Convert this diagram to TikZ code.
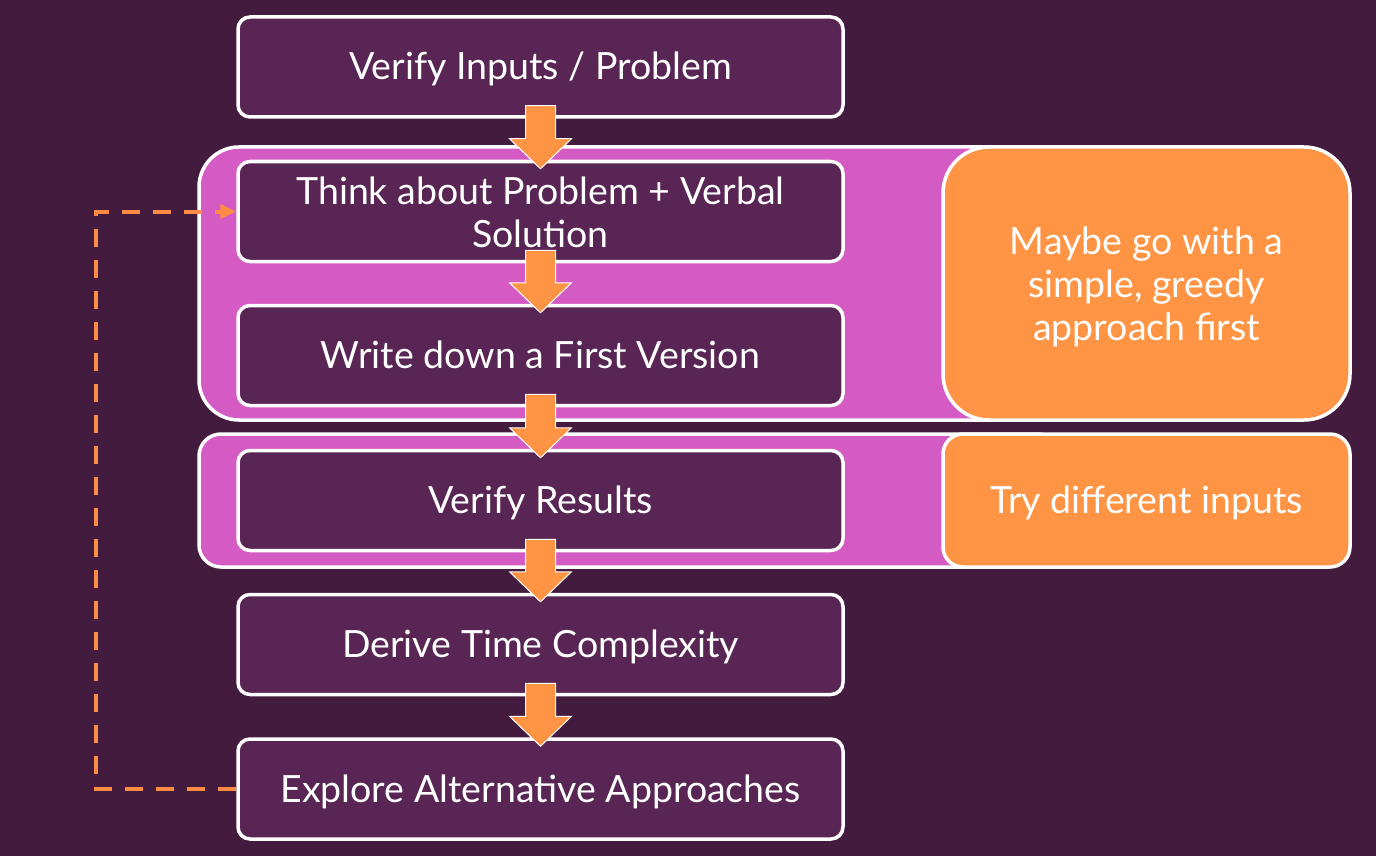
\documentclass[tikz,border=0pt]{standalone}
\usepackage{fontspec}
\setmainfont{Lato}
\usetikzlibrary{calc,arrows.meta}
\definecolor{bgpurple}{RGB}{66,27,62}
\definecolor{boxpurple}{RGB}{88,37,84}
\definecolor{grouppink}{RGB}{213,91,196}
\definecolor{noteorange}{RGB}{255,148,68}
\definecolor{dashorange}{RGB}{255,140,66}
\tikzset{
  stepbox/.style={draw=white, line width=3.5pt, fill=boxpurple, rounded corners=12pt,
    minimum width=605pt, minimum height=100pt, inner sep=0pt, text=white,
    font=\fontsize{37.5}{43}\selectfont, align=center},
  oneline/.style={text height=33pt, text depth=7pt},
  groupbox/.style={draw=white, line width=3.5pt, fill=grouppink, inner sep=0pt},
  notebox/.style={draw=white, line width=3.5pt, fill=noteorange, inner sep=0pt,
    text=white, font=\fontsize{37.5}{43}\selectfont, align=center},
  blockarrow/.style={fill=noteorange, draw=white, line width=1pt, line join=miter},
  loopline/.style={draw=dashorange, line width=4pt, dash pattern=on 18pt off 13pt,
    -{Triangle[length=16pt,width=14pt]}}
}
\newcommand{\blockarr}[2]{%
  \path[blockarrow] let \p1=(#1.south), \p2=(#2.north) in
    (\x1-15pt,\y1+13pt) -- (\x1+15pt,\y1+13pt) -- (\x1+15pt,\y2+21pt)
    -- (\x1+31pt,\y2+21pt) -- (\x1,\y2-9pt) -- (\x1-31pt,\y2+21pt)
    -- (\x1-15pt,\y2+21pt) -- cycle;}
\begin{document}
\begin{tikzpicture}[x=1pt,y=-1pt]
\fill[bgpurple] (0,0) rectangle (1376,856);
\useasboundingbox (0,0) rectangle (1376,856);
% groups
\node[groupbox, rounded corners=40pt, minimum width=861pt, minimum height=273pt] (g1) at (629.5,283.5) {};
\node[notebox, rounded corners=46pt, minimum width=407pt, minimum height=273pt] (n1) at (1146.5,283.5) {\rule{0pt}{34pt}Maybe go with a\\simple, greedy\\approach first};
\node[groupbox, rounded corners=22pt, minimum width=861pt, minimum height=133pt] (g2) at (629.5,500.5) {};
\node[notebox, oneline, rounded corners=20pt, minimum width=407pt, minimum height=133pt] (n2) at (1146.5,500.5) {Try different inputs};
% steps
\node[stepbox, oneline] (b1) at (540.5,67) {Verify Inputs / Problem};
\node[stepbox] (b2) at (540.5,211.5) {\rule{0pt}{29pt}Think about Problem + Verbal\\Solution};
\node[stepbox, oneline] (b3) at (540.5,355.5) {Write down a First Version};
\node[stepbox, oneline] (b4) at (540.5,500.5) {Verify Results};
\node[stepbox, oneline] (b5) at (540.5,644.5) {Derive Time Complexity};
\node[stepbox, oneline] (b6) at (540.5,789) {Explore Alternative Approaches};
% arrows
\blockarr{b1}{b2}
\blockarr{b2}{b3}
\blockarr{b3}{b4}
\blockarr{b4}{b5}
\blockarr{b5}{b6}
% loop
\coordinate (lc) at (96,789);
\draw[loopline] (b6.west) -- (lc) |- (b2.west);
\end{tikzpicture}
\end{document}
